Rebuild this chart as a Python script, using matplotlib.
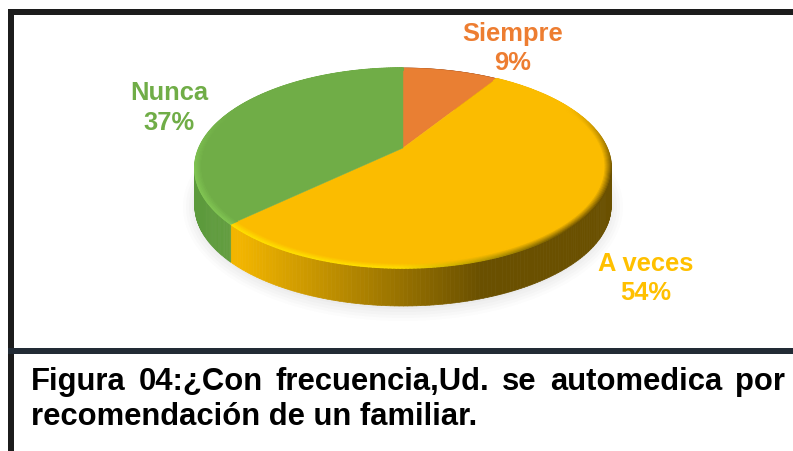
import numpy as np
import matplotlib
matplotlib.use("Agg")
import matplotlib.pyplot as plt
from matplotlib.collections import PolyCollection, LineCollection
from matplotlib.patches import Ellipse, Polygon, Rectangle
from matplotlib.colors import to_rgb

categories = ["Siempre", "A veces", "Nunca"]
values = [9, 54, 37]
face_colors = ["#e97f33", "#fbbc00", "#70ad47"]
label_colors = ["#ed7d31", "#ffc000", "#70ad47"]
caption_line1 = ["Figura", "04:¿Con", "frecuencia,Ud.", "se", "automedica", "por"]
caption_line2 = "recomendación de un familiar."

plt.rcParams["font.family"] = ["Liberation Sans", "DejaVu Sans"]
W, H = 793, 452
fig = plt.figure(figsize=(W / 100, H / 100), dpi=100)
ax = fig.add_axes([0, 0, 1, 1])
ax.set_xlim(0, W)
ax.set_ylim(H, 0)
ax.axis("off")

# projection of the tilted disc
CX, CY, DEPTH = 403, 149, 38
A, B, C = 96.0, 204.0, 0.2


def proj(theta, r=1.0):
    X, Y = r * np.sin(theta), r * np.cos(theta)
    d = 1 + C * Y
    return CX + B * X / d, CY - A * Y / d


def mix(c1, c2, t):
    c1, c2 = np.array(to_rgb(c1)), np.array(to_rgb(c2))
    return tuple(c1 + (c2 - c1) * float(np.clip(t, 0, 1)))


# soft shadow
for grow, alpha in [(14, .018), (11, .022), (8, .028), (5, .032), (2, .04)]:
    ax.add_patch(Ellipse((403, 208), 2 * (206 + grow), 2 * (100 + grow), fc="#777777", ec="none", alpha=alpha, zorder=1))

fr = np.array(values, dtype=float) / sum(values)
edges = np.concatenate([[0], np.cumsum(fr)]) * 2 * np.pi

# side wall
for i in range(len(values)):
    ts = np.linspace(edges[i], edges[i + 1], 200)
    quads, cols = [], []
    for a, b in zip(ts[:-1], ts[1:]):
        xa, ya = proj(a)
        xb, yb = proj(b)
        quads.append([(xa, ya), (xb, yb), (xb, yb + DEPTH), (xa, ya + DEPTH)])
        xm = (xa + xb) / 2
        if i == 1:
            cols.append(mix("#f2b500", "#6a5000", (xm - 240) / 240))
        elif i == 2:
            cols.append(mix("#5c9a3c", "#669f42", (xm - 200) / 40))
        else:
            cols.append(to_rgb("#a05020"))
    ax.add_collection(PolyCollection(quads, facecolors=cols, edgecolors=cols, linewidths=.5, zorder=2))

# top faces
for i in range(len(values)):
    ts = np.linspace(edges[i], edges[i + 1], 300)
    x, y = proj(ts)
    pts = np.column_stack([np.r_[CX, x], np.r_[CY, y]])
    ax.add_patch(Polygon(pts, closed=True, fc=face_colors[i], ec=face_colors[i], lw=.3, zorder=3))

# rounded rim
radii = np.linspace(1.0, 0.965, 8)
for i in range(1, len(values)):
    ts = np.linspace(edges[i], edges[i + 1], 220)
    for k, r in enumerate(radii):
        x, y = proj(ts, r)
        segs, cols = [], []
        fade = k / (len(radii) - 1)
        for j in range(len(ts) - 1):
            xm = (x[j] + x[j + 1]) / 2
            Y = np.cos((ts[j] + ts[j + 1]) / 2)
            vis = np.clip((0.45 - Y) / 0.7, 0, 1)
            if i == 1:
                rimc = mix("#ffe000", "#6a5000", (xm - 400) / 170)
            else:
                rimc = "#82c654"
            col = mix(rimc, face_colors[i], fade)
            col = mix(face_colors[i], col, vis)
            segs.append([(x[j], y[j]), (x[j + 1], y[j + 1])])
            cols.append(col)
        ax.add_collection(LineCollection(segs, colors=cols, linewidths=1.1, zorder=4, capstyle="round"))

# frame
frame = "#1c1c1c"
ax.add_patch(Rectangle((8, 10), W - 8, 6.3, fc=frame, ec="none", zorder=5))
ax.add_patch(Rectangle((8, 10), 5.5, H - 10, fc=frame, ec="none", zorder=5))
ax.add_patch(Rectangle((8, 349), W - 8, 5.5, fc="#222b35", ec="none", zorder=5))

# labels
label_pos = [(513, 34.5, 63.5), (646, 264, 293.5), (169, 93.5, 122.5)]
for name, v, c, (lx, y1, y2) in zip(categories, values, label_colors, label_pos):
    ax.text(lx, y1, name, color=c, fontsize=18.4, fontweight="bold", ha="center", va="center", zorder=6)
    ax.text(lx, y2, f"{v}%", color=c, fontsize=18.4, fontweight="bold", ha="center", va="center", zorder=6)

# caption: first line justified between its margins
fs = 22.3
left, right, base1, base2 = 31, 785, 390, 425
fig.canvas.draw()
rend = fig.canvas.get_renderer()
items = [ax.text(left, base1, w, fontsize=fs, fontweight="bold", color="black", ha="left", va="baseline", zorder=6)
         for w in caption_line1]
widths = [t.get_window_extent(rend).width for t in items]
gap = (right - left - sum(widths)) / (len(items) - 1)
xpos = left
for t, w in zip(items, widths):
    t.set_x(xpos)
    xpos += w + gap
ax.text(left, base2, caption_line2, fontsize=fs, fontweight="bold", color="black", ha="left", va="baseline", zorder=6)

fig.savefig("out.png", dpi=100)
